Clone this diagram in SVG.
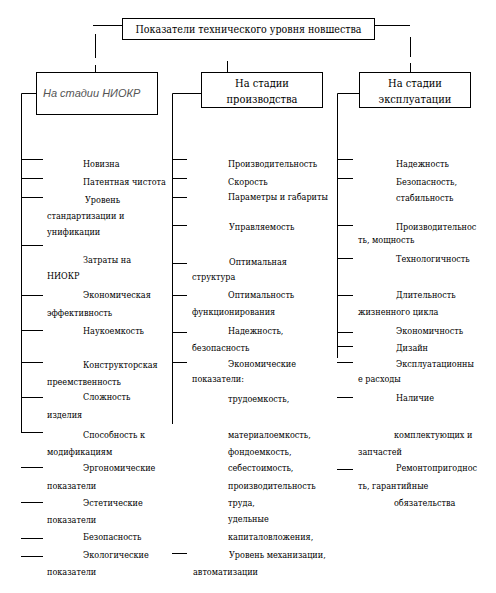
<svg xmlns="http://www.w3.org/2000/svg" width="496" height="593" viewBox="0 0 496 593">
<style>
.t{font-family:'DejaVu Serif Condensed','DejaVu Serif',serif;font-size:9px;fill:#000}
.h{font-family:'DejaVu Serif Condensed','DejaVu Serif',serif;font-size:11px;fill:#000}
.i{font-family:'Liberation Sans',Arial,sans-serif;font-size:11px;font-style:italic;fill:#555}
.b{fill:#fff;stroke:#000;stroke-width:1}
.l{stroke:#000;stroke-width:1;fill:none}
</style>
<rect width="496" height="593" fill="#fff"/>
<g id="connectors" class="l">
<path d="M93 25.5H122M375 25.5H410"/>
<path d="M95.5 34V58M95.5 65V72"/>
<path d="M410.5 37V57M410.5 63V72"/>
<path d="M227.5 61V72"/>
<path d="M36 93.5H21.5V432"/>
<path d="M201 93.5H172.5V424"/>
<path d="M359 93.5H337.5V358"/>
<path d="M21 159.5H43M21 178.5H43M21 197.5H43M21 245.5H43M21 295.5H43M21 330.5H43M21 362.5H43M21 397.5H43M21 432.5H43M21 467.5H43M21 502.5H43M21 538.5H43M21 556.5H43"/>
<path d="M172 159.5H187M172 178.5H187M172 197.5H187M172 225.5H187M172 263.5H187M172 295.5H187M172 332.5H187M172 362.5H187M172 553.5H187"/>
<path d="M337 159.5H353M337 178.5H353M337 225.5H353M337 258.5H353M337 295.5H353M337 332.5H353M337 346.5H353M337 362.5H353M337 397.5H353M337 469.5H353"/>
</g>
<g id="root">
<rect class="b" x="122.5" y="18.5" width="252" height="21"/>
<text class="h" x="248.5" y="33" text-anchor="middle" textLength="226" lengthAdjust="spacingAndGlyphs">Показатели технического уровня новшества</text>
</g>
<g id="niokr">
<rect class="b" x="36.5" y="72.5" width="121" height="42"/>
<text class="i" x="43" y="97">На стадии НИОКР</text>
</g>
<g id="production">
<rect class="b" x="201.5" y="72.5" width="121" height="35"/>
<text class="h" x="262" y="87" text-anchor="middle">На стадии</text>
<text class="h" x="262" y="103" text-anchor="middle">производства</text>
</g>
<g id="exploitation">
<rect class="b" x="359.5" y="72.5" width="111" height="35"/>
<text class="h" x="415" y="87" text-anchor="middle">На стадии</text>
<text class="h" x="415" y="103" text-anchor="middle">эксплуатации</text>
</g>
<g id="niokr-items" class="t">
<text x="83" y="167">Новизна</text>
<text x="83" y="185">Патентная чистота</text>
<text x="85" y="203">Уровень</text>
<text x="47" y="219">стандартизации и</text>
<text x="47" y="235">унификации</text>
<text x="83" y="263">Затраты на</text>
<text x="47" y="279">НИОКР</text>
<text x="83" y="298">Экономическая</text>
<text x="47" y="316">эффективность</text>
<text x="83" y="334">Наукоемкость</text>
<text x="83" y="368">Конструкторская</text>
<text x="47" y="385">преемственность</text>
<text x="83" y="400">Сложность</text>
<text x="47" y="418">изделия</text>
<text x="83" y="438">Способность к</text>
<text x="47" y="455">модификациям</text>
<text x="83" y="471">Эргономические</text>
<text x="47" y="489">показатели</text>
<text x="83" y="506">Эстетические</text>
<text x="47" y="523">показатели</text>
<text x="83" y="540">Безопасность</text>
<text x="83" y="558">Экологические</text>
<text x="47" y="575">показатели</text>
</g>
<g id="production-items" class="t">
<text x="228" y="167">Производительность</text>
<text x="228" y="185">Скорость</text>
<text x="228" y="200">Параметры и габариты</text>
<text x="229" y="230">Управляемость</text>
<text x="229" y="265">Оптимальная</text>
<text x="192" y="280">структура</text>
<text x="228" y="298">Оптимальность</text>
<text x="192" y="315">функционирования</text>
<text x="228" y="334">Надежность,</text>
<text x="192" y="351">безопасность</text>
<text x="228" y="367">Экономические</text>
<text x="192" y="382">показатели:</text>
<text x="228" y="402">трудоемкость,</text>
<text x="228" y="438">материалоемкость,</text>
<text x="228" y="455">фондоемкость,</text>
<text x="228" y="471">себестоимость,</text>
<text x="228" y="489">производительность</text>
<text x="228" y="506">труда,</text>
<text x="228" y="522">удельные</text>
<text x="228" y="540">капиталовложения,</text>
<text x="229" y="558">Уровень механизации,</text>
<text x="193" y="575">автоматизации</text>
</g>
<g id="exploitation-items" class="t">
<text x="396" y="167">Надежность</text>
<text x="396" y="185">Безопасность,</text>
<text x="396" y="201">стабильность</text>
<text x="396" y="230">Производительнос</text>
<text x="358" y="243">ть, мощность</text>
<text x="396" y="262">Технологичность</text>
<text x="396" y="298">Длительность</text>
<text x="358" y="315">жизненного цикла</text>
<text x="396" y="334">Экономичность</text>
<text x="396" y="351">Дизайн</text>
<text x="396" y="367">Эксплуатационны</text>
<text x="358" y="382">е расходы</text>
<text x="396" y="401">Наличие</text>
<text x="394" y="438">комплектующих и</text>
<text x="358" y="455">запчастей</text>
<text x="396" y="471">Ремонтопригоднос</text>
<text x="358" y="489">ть, гарантийные</text>
<text x="394" y="506">обязательства</text>
</g>
</svg>
